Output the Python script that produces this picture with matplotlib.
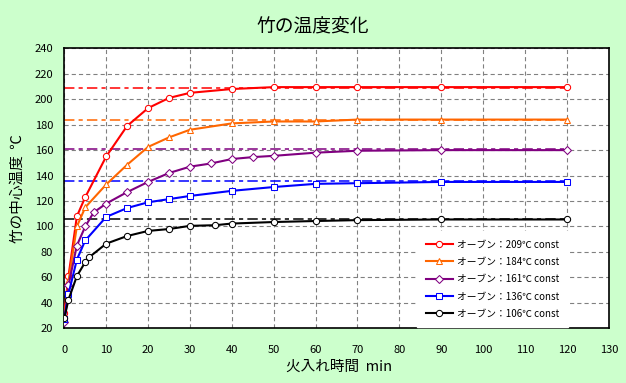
import matplotlib
matplotlib.use('Agg')
import matplotlib.pyplot as plt

plt.rcParams['font.family'] = ['Noto Sans CJK JP', 'DejaVu Sans']
plt.rcParams['lines.scale_dashes'] = False

# oven set temperatures (deg C)
oven = [209, 184, 161, 136, 106]
colors = ['#FF0000', '#FF6600', '#800080', '#0000FF', '#000000']
markers = ['o', '^', 'D', 's', 'o']

# measured core temperature of bamboo
t_red = [0, 1, 3, 5, 10, 15, 20, 25, 30, 40, 50, 60, 70, 90, 120]
T_red = [32, 61, 108, 123, 155, 179, 193, 201, 205, 208, 209.5, 209.5, 209.5, 209.5, 209.5]

t_orange = [0, 1, 3, 5, 10, 15, 20, 25, 30, 40, 50, 60, 70, 90, 120]
T_orange = [28, 57, 100, 115, 133, 148.5, 162.5, 170, 176, 181, 182.5, 182.5, 184, 184, 184]

t_purple = [0, 1, 3, 5, 7, 10, 15, 20, 25, 30, 35, 40, 45, 50, 60, 70, 90, 120]
T_purple = [25, 54, 85, 100, 111, 118, 127, 135, 142, 147, 149.5, 153, 154.5, 155.5, 158, 159.5, 160, 160]

t_blue = [0, 1, 3, 5, 10, 15, 20, 25, 30, 40, 50, 60, 70, 90, 120]
T_blue = [27, 47, 74, 89, 107.5, 114.5, 119, 121.5, 124, 128, 131, 133.5, 134, 135, 135]

t_black = [0, 1, 3, 5, 6, 10, 15, 20, 25, 30, 36, 40, 50, 60, 70, 90, 120]
T_black = [28, 42.5, 61, 72, 76, 86.5, 92.5, 96.5, 98, 100.5, 101, 102.3, 103.5, 104.3, 105, 105.5, 105.5]

series_t = [t_red, t_orange, t_purple, t_blue, t_black]
series_T = [T_red, T_orange, T_purple, T_blue, T_black]
labels = ['オーブン：%d℃ const' % v for v in oven]

bg = '#CCFFCC'
fig = plt.figure(figsize=(6.26, 3.83), dpi=100, facecolor=bg)
ax = fig.add_axes([64.3 / 626, 1 - 328.3 / 383, (608.8 - 64.3) / 626, (328.3 - 48.3) / 383])
ax.set_facecolor('white')

# reference lines at oven temperature
for v, c in zip(oven, colors):
    ax.plot([0, 120], [v, v], color=c, lw=1.1, ls=(0, (7.5, 3, 3, 3)), zorder=2)

for t, T, c, m, lab in zip(series_t, series_T, colors, markers, labels):
    ms = 4.2 if m == 'D' else 4.5
    ax.plot(t, T, color=c, lw=1.5, marker=m, ms=ms, mfc='white', mec=c, mew=0.75,
            label=lab, zorder=3)

ax.set_xlim(0, 130)
ax.set_ylim(20, 240)
ax.set_xticks(range(0, 131, 10))
ax.set_yticks(range(20, 241, 20))
ax.grid(True, color='#808080', lw=0.8, ls=(0, (3, 2.2)), zorder=1)
ax.set_axisbelow(True)
ax.tick_params(length=0, labelsize=8, colors='black')
ax.tick_params(axis='y', pad=8)
ax.tick_params(axis='x', pad=12)
for s in ax.spines.values():
    s.set_linewidth(1.2)
    s.set_color('black')

fig.text(0.5, 1 - 27 / 383, '竹の温度変化', ha='center', va='center', fontsize=13.5)
ax.set_xlabel('火入れ時間  min', fontsize=10.5)
ax.xaxis.set_label_coords((339 - 64.3) / 544.5, -(360 - 328.3) / 280)
ax.set_ylabel('竹の中心温度  ℃', fontsize=10.5)
ax.yaxis.set_label_coords(-(64.3 - 25) / 544.5, 0.5)

leg = ax.legend(loc='lower right', bbox_to_anchor=(0.925, 0.003), fontsize=7,
                frameon=True, fancybox=False, edgecolor='white', facecolor='white',
                framealpha=1, handlelength=2.8, handletextpad=0.4, labelspacing=0.75,
                borderpad=0.9, borderaxespad=0)
leg.set_zorder(5)

fig.savefig('out.png', dpi=100, facecolor=bg)
